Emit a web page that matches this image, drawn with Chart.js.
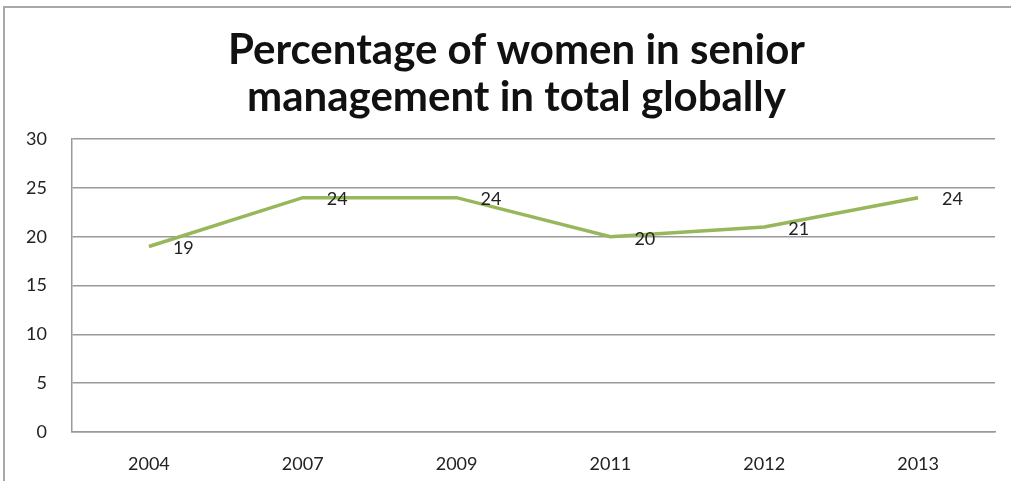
<!DOCTYPE html>
<html>
<head>
<meta charset="utf-8">
<script src="https://cdn.jsdelivr.net/npm/chart.js@4"></script>
<style>
html,body{margin:0;padding:0;background:#fff;}
#wrap{position:relative;width:1011px;height:481px;}
</style>
</head>
<body>
<div id="wrap"><canvas id="c" width="1011" height="481"></canvas></div>
<script>
const categories = ["2004", "2007", "2009", "2011", "2012", "2013"];
const values = [19, 24, 24, 20, 21, 24];
const titleLines = ["Percentage of women in senior", "management in total globally"];
const yTicks = [0, 5, 10, 15, 20, 25, 30];

const frame = {
  id: 'frame',
  afterLayout(chart) {
    const t = chart.titleBlock;
    if (t) { t.left = 38; t.width = t.right - t.left; }
  },
  beforeDraw(chart) {
    const ctx = chart.ctx;
    ctx.save();
    ctx.fillStyle = '#fff';
    ctx.fillRect(0, 0, chart.width, chart.height);
    ctx.strokeStyle = '#a8a8a8';
    ctx.lineWidth = 2;
    ctx.beginPath();
    ctx.moveTo(4, chart.height);
    ctx.lineTo(4, 7);
    ctx.lineTo(chart.width, 7);
    ctx.stroke();
    ctx.restore();
  }
};

const dataLabels = {
  id: 'dataLabels',
  afterDatasetsDraw(chart) {
    const ctx = chart.ctx;
    const meta = chart.getDatasetMeta(0);
    ctx.save();
    ctx.font = '18px Lato, "DejaVu Sans", sans-serif';
    ctx.fillStyle = '#222';
    ctx.textAlign = 'left';
    ctx.textBaseline = 'middle';
    meta.data.forEach((pt, i) => {
      ctx.fillText(String(values[i]), pt.x + 24, pt.y + 2);
    });
    ctx.restore();
  }
};

const tickFont = { family: 'Lato, "DejaVu Sans", sans-serif', size: 18 };

new Chart(document.getElementById('c'), {
  type: 'line',
  data: {
    labels: categories,
    datasets: [{
      data: values,
      borderColor: '#98b65a',
      borderWidth: 3.5,
      pointRadius: 0,
      tension: 0,
      fill: false
    }]
  },
  options: {
    responsive: false,
    animation: false,
    devicePixelRatio: 1,
    layout: { padding: { left: 0, right: 16, top: 8, bottom: 0 } },
    plugins: {
      legend: { display: false },
      tooltip: { enabled: false },
      title: {
        display: true,
        text: titleLines,
        color: '#111',
        font: { family: 'Lato, "DejaVu Sans", sans-serif', size: 42, weight: 'bold', lineHeight: 1.12 },
        padding: { top: 19, bottom: 18 }
      }
    },
    scales: {
      x: {
        offset: true,
        grid: { display: false, drawTicks: false },
        border: { display: true, color: '#999', width: 1.5 },
        ticks: { color: '#222', font: tickFont, padding: 21 },
        afterFit(s) { s.height = 49; }
      },
      y: {
        min: 0, max: 30,
        afterBuildTicks(s) { s.ticks = yTicks.map(v => ({ value: v })); },
        grid: { color: '#999', lineWidth: 1.5, drawTicks: false },
        border: { display: true, color: '#999', width: 1.5 },
        ticks: { color: '#222', font: tickFont, padding: 25 },
        afterFit(s) { s.width = 72; }
      }
    }
  },
  plugins: [frame, dataLabels]
});
</script>
</body>
</html>
